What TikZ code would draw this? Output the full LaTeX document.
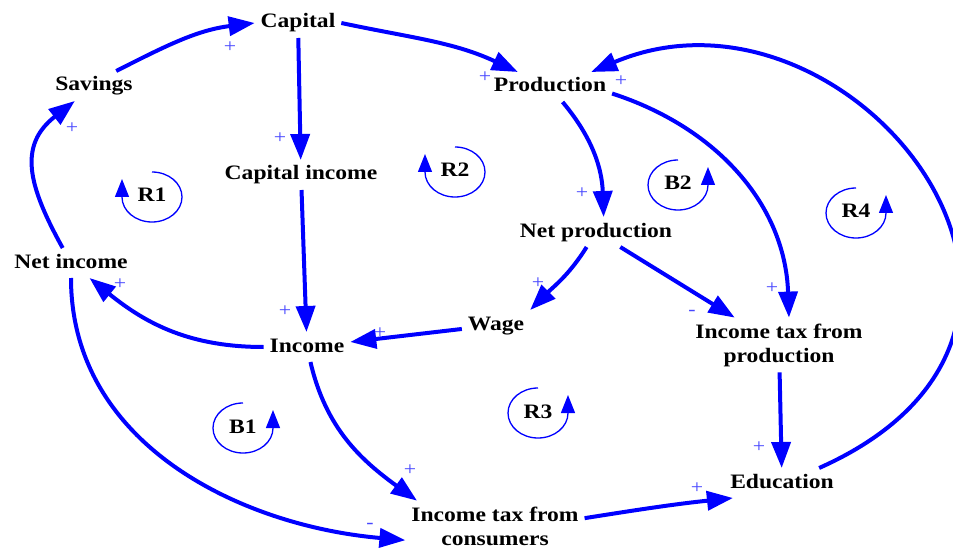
\documentclass[tikz,border=0pt]{standalone}
\usepackage{fontspec}
\setmainfont{Liberation Serif}[FakeStretch=1.15]
\usetikzlibrary{arrows.meta}

\definecolor{polblue}{RGB}{70,70,255}

\begin{document}
\begin{tikzpicture}[x=1pt, y=1pt,
    var/.style={font=\fontsize{20.5}{24}\selectfont\bfseries, inner sep=3pt, outer sep=3pt, text height=14pt, text depth=4pt},
    var2/.style={font=\fontsize{20.5}{24}\selectfont\bfseries, inner sep=3pt, outer sep=3pt, align=center},
    link/.style={blue, line width=4pt, -{Triangle[length=26pt, width=19pt]}},
    cyc/.style={blue, line width=1.3pt, -{Triangle[length=18pt, width=14pt]}},
    pol/.style={text=polblue, font=\fontsize{19}{19}\selectfont, inner sep=0pt}]
        \useasboundingbox (0,0) rectangle (953,-548);

        % variables
        \node[var] (cap) at (298,-23) {Capital};
        \node[var] (sav) at (94,-86) {Savings};
        \node[var] (capinc) at (301,-175) {Capital income};
        \node[var] (ni) at (71,-263) {Net income};
        \node[var] (prod) at (550,-87) {Production};
        \node[var] (netprod) at (596,-232) {Net production};
        \node[var] (wage) at (496,-325) {Wage};
        \node[var] (inc) at (307,-347) {Income};
        \node[var2] (itp) at (779,-345) {Income tax from\\production};
        \node[var] (edu) at (782,-483) {Education};
        \node[var2] (itc) at (495,-526) {Income tax from\\consumers};

        % loop names
        \node[var] (r1) at (152,-197) {R1};
        \node[var] (r2) at (455,-172) {R2};
        \node[var] (b2) at (678,-185) {B2};
        \node[var] (r4) at (856,-213) {R4};
        \node[var] (b1) at (243,-428) {B1};
        \node[var] (r3) at (538,-413) {R3};

        % causal links
        \draw[link] (sav.34) to[out=27, in=187] (cap.west);
        \draw[link] (ni) to[out=119, in=218, looseness=1.25] (sav);
        \draw[link] (cap) -- (capinc);
        \draw[link] (capinc) -- (inc);
        \draw[link] (cap.east) to[out=-12, in=155] (prod);
        \draw[link] (prod) to[out=-50, in=92] (netprod.63);
        \draw[link] (prod.-6) to[out=-18, in=92] (itp.70);
        \draw[link] (edu.22) to[out=24, in=23, out distance=350pt, in distance=280pt] (prod.20);
        \draw[link] (netprod) to[out=-122, in=45] (wage.north east);
        \draw[link] (netprod) -- (itp);
        \draw[link] (wage) -- (inc);
        \draw[link] (inc.west) to[out=180, in=-39] (ni);
        \draw[link] (inc) to[out=-77, in=144] (itc.162);
        \draw[link] (ni.south) to[out=-90, in=175] (itc.189);
        \draw[link] (itp) -- (edu);
        \draw[link] (itc.5) to[out=9, in=186] (edu.197);

        % loop circles, clockwise for R1 and R2
        \foreach \lp/\e in {r1/-180, r2/-180, b1/360, b2/360, r3/360, r4/360}
        {
            \draw[cyc] ([yshift=25pt]\lp.center) arc[start angle=90, end angle=\e, x radius=30, y radius=25] -- ++(0,18);
        }

        % polarities
        \foreach \x/\y/\s [count=\i] in {230/47/+, 72/128/+, 280/138/+, 485/77/+, 621/81/+, 582/193/+,
            538/283/+, 772/288/+, 692/313/-, 285/311/+, 380/333/+, 120/284/+, 410/470/+, 370/526/-,
            759/447/+, 697/488/+}
        {
            \node[pol] (s\i) at (\x,-\y) {\s};
        }
    \end{tikzpicture}
\end{document}
